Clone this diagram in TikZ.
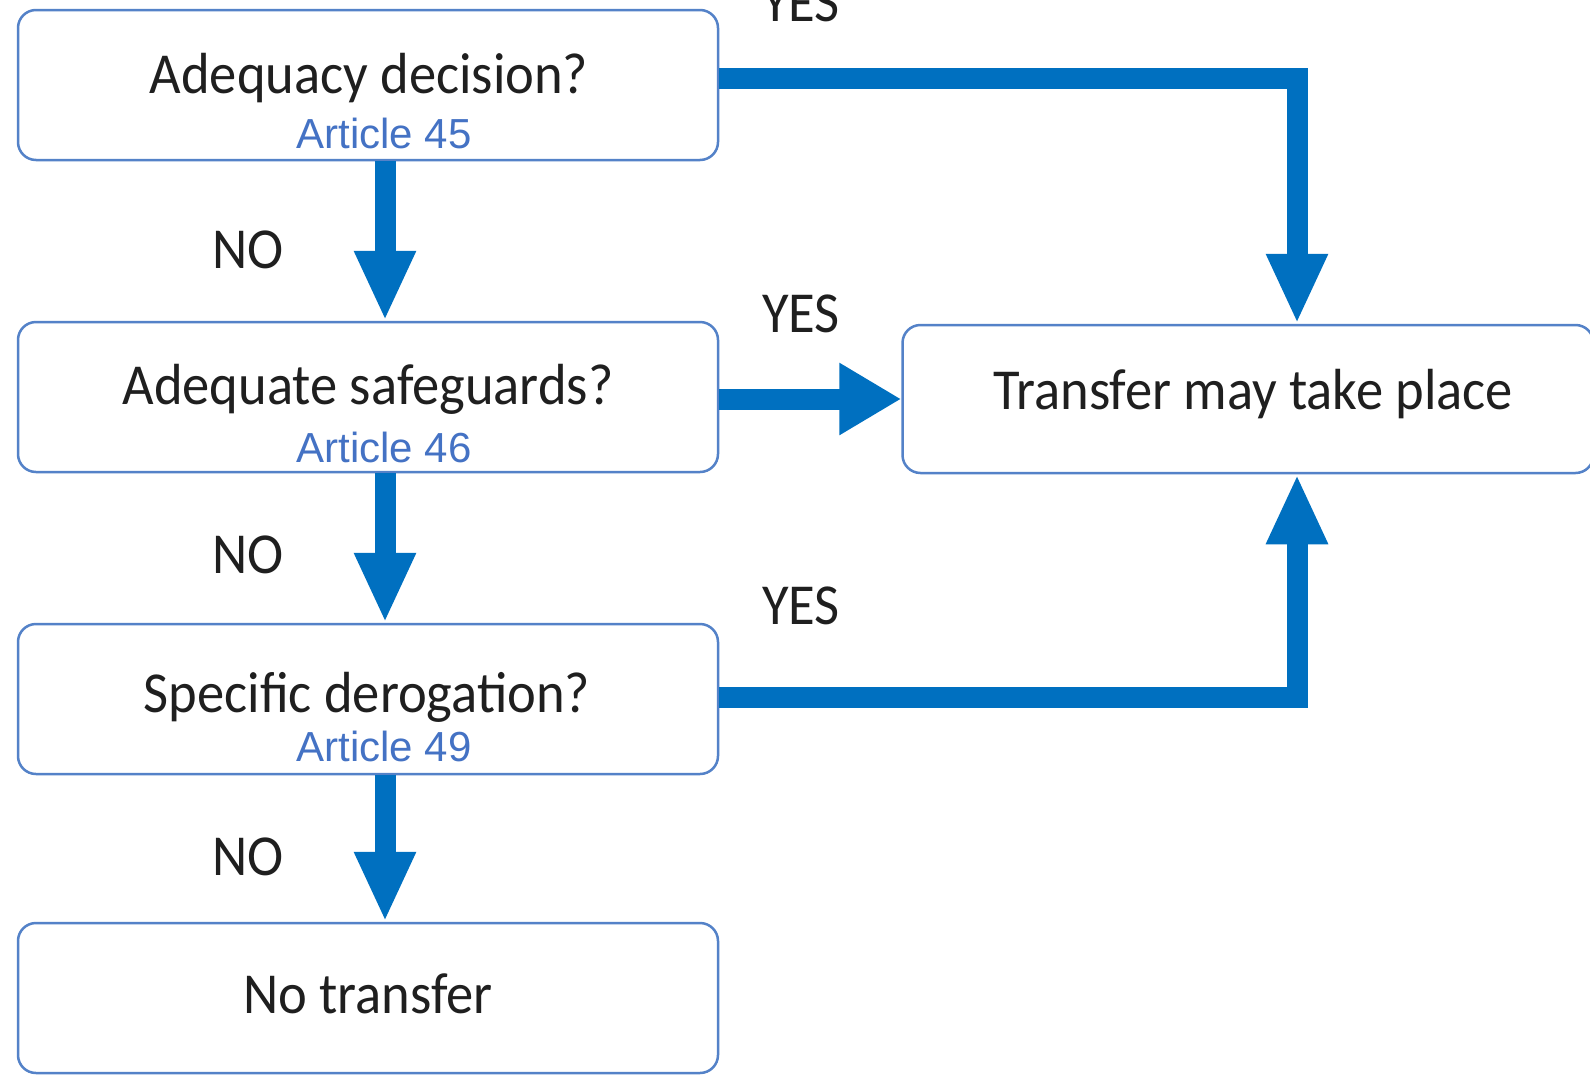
\documentclass[tikz,border=0pt]{standalone}
\usepackage{fontspec}
\setmainfont{Carlito}[FakeStretch=0.94]
\newfontfamily\articlefont{Liberation Sans}
\usetikzlibrary{arrows.meta}
\definecolor{boxblue}{RGB}{84,130,200}
\definecolor{arrowblue}{RGB}{0,112,192}
\definecolor{articleblue}{RGB}{68,114,196}

\begin{document}
\begin{tikzpicture}[x=1pt,y=-1pt,
    box/.style={draw=boxblue,fill=white,line width=2.5pt,rounded corners=18pt,
      minimum width=700pt,minimum height=150pt,inner sep=0pt},
    question/.style={text=black!88,font=\fontsize{58}{70}\selectfont,inner sep=0pt},
    article/.style={text=articleblue,font=\articlefont\fontsize{42}{50}\selectfont,inner sep=0pt},
    flow/.style={draw=arrowblue,line width=21pt,-{Triangle[length=70pt,width=57pt]}},
    sideflow/.style={flow,-{Triangle[length=62pt,width=68pt]}}]
    \useasboundingbox[fill=white] (0,0) rectangle (1590,1074);
    % boxes
    \node[box] (adq) at (368,85) {};
    \node[box] (safe) at (368,397) {};
    \node[box] (derog) at (368,699) {};
    \node[box] (none) at (368,998) {};
    \node[box,minimum width=691pt,minimum height=148pt] (transfer) at (1248,399) {};
    \node[question] (adqq) at (369,78) {Adequacy decision?};
    \node[article] (adqa) at (384,133) {Article 45};
    \node[question] (safeq) at (368,389) {Adequate safeguards?};
    \node[article] (safea) at (384,447) {Article 46};
    \node[question] (derogq) at (367,697) {Specific derogation?};
    \node[article] (deroga) at (384,746) {Article 49};
    \node[question] (noneq) at (368,994) {No transfer};
    \node[question] (transferq) at (1253,394) {Transfer may take place};
    % answers
    \node[question] (no1) at (248,250) {NO};
    \node[question] (no2) at (248,555) {NO};
    \node[question] (no3) at (248,857) {NO};
    \node[question] (yes1) at (801,3) {YES};
    \node[question] (yes2) at (801,314) {YES};
    \node[question] (yes3) at (801,606) {YES};
    % arrows
    \coordinate (stem) at (385,0);
    \coordinate (yesx) at (1297,0);
    \draw[flow] (adq.south -| stem) -- (safe.north -| stem);
    \draw[flow] (safe.south -| stem) -- (derog.north -| stem);
    \draw[flow] (derog.south -| stem) -- (none.north -| stem);
    \draw[flow] (adq.east |- adqq) -| (transfer.north -| yesx);
    \draw[sideflow] (safe.east |- transfer.west) -- (transfer.west);
    \draw[flow] (derog.east |- derogq) -| (transfer.south -| yesx);
\end{tikzpicture}
\end{document}
